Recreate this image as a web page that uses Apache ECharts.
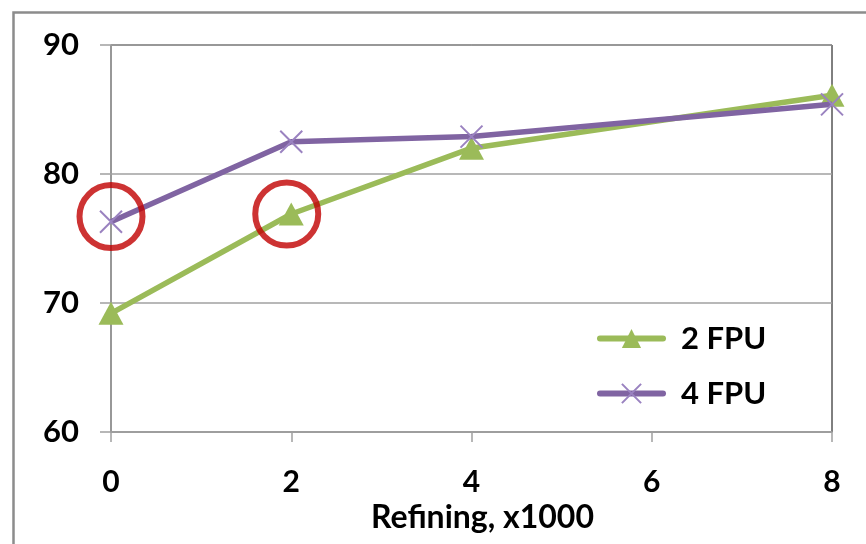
<!DOCTYPE html>
<html>
<head>
<meta charset="utf-8">
<script src="https://cdn.jsdelivr.net/npm/echarts@6/dist/echarts.min.js"></script>
<style>
  html, body { margin: 0; padding: 0; background: #fff; }
  #chart { width: 866px; height: 544px; }
</style>
</head>
<body>
<div id="chart"></div>
<script>
// Refining steps (thousands) and accuracy for each FPU configuration
const refining = [0, 2, 4, 8];
const fpu2 = [69.2, 76.9, 82.0, 86.1];
const fpu4 = [76.3, 82.5, 82.9, 85.4];
// Highlighted points (ring annotations)
const ringX = [0, 1.95];
const ringY = [76.7, 76.9];

const FONT = 'Lato';
const GREEN = '#9bbb59';
const PURPLE = '#8064a2';
const CROSS = 'path://M0,0L10,10M10,0L0,10';

const chart = echarts.init(document.getElementById('chart'), null, { renderer: 'canvas' });

chart.setOption({
  backgroundColor: '#ffffff',
  animation: false,
  graphic: [{
    type: 'rect',
    left: 11, top: 10,
    shape: { width: 900, height: 600 },
    style: { fill: 'none', stroke: '#8c8c8c', lineWidth: 2.5 },
    silent: true,
    z: -10
  }],
  grid: {
    left: 111, right: 34, top: 45, bottom: 112,
    show: true, borderColor: '#000000', borderWidth: 1,
    backgroundColor: 'transparent'
  },
  legend: {
    orient: 'vertical',
    left: 592, top: 318,
    itemWidth: 63, itemHeight: 24, itemGap: 24,
    textStyle: { fontFamily: FONT, fontWeight: 'bold', fontSize: 31, color: '#000', padding: [0, 0, 0, 13] },
    data: [
      { name: '2 FPU', lineStyle: { width: 6, cap: 'round' } },
      { name: '4 FPU', lineStyle: { width: 6, cap: 'round' } }
    ]
  },
  xAxis: {
    type: 'value',
    min: 0, max: 8, interval: 2,
    name: 'Refining, x1000',
    nameLocation: 'middle',
    nameGap: 70,
    nameTextStyle: { fontFamily: FONT, fontWeight: 'bold', fontSize: 32, color: '#000', padding: [0, 0, 0, 22] },
    axisLine: { show: true, lineStyle: { color: '#a0a0a0', width: 1.5 } },
    axisTick: { show: true, length: 10, lineStyle: { color: '#a0a0a0', width: 1.5 } },
    axisLabel: { fontFamily: FONT, fontWeight: 'bold', fontSize: 30, color: '#000', margin: 35 },
    splitLine: { show: false }
  },
  yAxis: {
    type: 'value',
    min: 60, max: 90, interval: 10,
    axisLine: { show: true, lineStyle: { color: '#a0a0a0', width: 1.5 } },
    axisTick: { show: true, length: 11, lineStyle: { color: '#a0a0a0', width: 1.5 } },
    axisLabel: { fontFamily: FONT, fontWeight: 'bold', fontSize: 31, color: '#000', margin: 32 },
    splitLine: { show: true, lineStyle: { color: '#a0a0a0', width: 1.5 } }
  },
  series: [
    {
      name: '2 FPU',
      type: 'line',
      data: refining.map((x, i) => [x, fpu2[i]]),
      symbol: 'triangle',
      symbolSize: [25, 23],
      showAllSymbol: true,
      lineStyle: { color: GREEN, width: 5.5 },
      itemStyle: { color: GREEN, borderWidth: 0 },
      z: 3
    },
    {
      name: '4 FPU',
      type: 'line',
      data: refining.map((x, i) => [x, fpu4[i]]),
      symbol: CROSS,
      symbolSize: 22,
      showAllSymbol: true,
      lineStyle: { color: PURPLE, width: 5.5 },
      itemStyle: { color: 'none', borderColor: '#9a82c0', borderWidth: 2 },
      z: 4
    },
    {
      name: 'rings',
      type: 'scatter',
      data: ringX.map((x, i) => [x, ringY[i]]),
      symbol: 'circle',
      symbolSize: 63,
      itemStyle: { color: 'transparent', borderColor: '#c00000', borderWidth: 6 },
      silent: true,
      z: 5
    }
  ]
});
</script>
</body>
</html>
